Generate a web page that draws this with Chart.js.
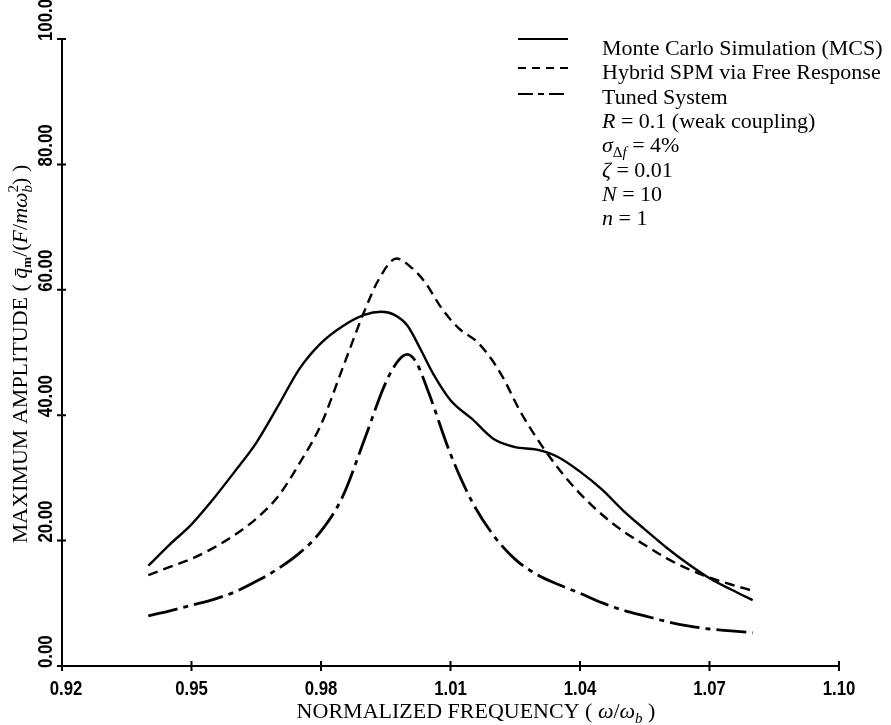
<!DOCTYPE html>
<html lang="en">
<head>
<meta charset="UTF-8">
<title>Maximum amplitude vs normalized frequency</title>
<script src="https://cdn.jsdelivr.net/npm/chart.js@4.4.1/dist/chart.umd.min.js"></script>
<style>
  body { margin: 0; background: #fff; }
  canvas { display: block; }
</style>
</head>
<body>
<canvas id="chart" width="891" height="725"></canvas>
<script>
// tick labels
const xTicks = [0.92, 0.95, 0.98, 1.01, 1.04, 1.07, 1.10];
const yTicks = [0, 20, 40, 60, 80, 100];

// Monte Carlo Simulation (solid)
const mcsX = [0.94, 0.945, 0.95, 0.955, 0.96, 0.965, 0.97, 0.975, 0.98, 0.985, 0.99, 0.994, 0.997, 1.0, 1.003, 1.006, 1.01, 1.015, 1.02, 1.025, 1.03, 1.035, 1.04, 1.045, 1.05, 1.055, 1.06, 1.065, 1.07, 1.075, 1.08];
const mcsY = [16.0, 19.4, 22.6, 26.6, 31.0, 35.6, 41.4, 47.4, 51.5, 54.2, 56.0, 56.5, 56.0, 54.3, 50.6, 46.6, 42.4, 39.4, 36.2, 34.9, 34.5, 33.3, 31.0, 28.2, 24.8, 21.8, 18.9, 16.3, 14.0, 12.2, 10.5];

// Hybrid SPM via Free Response (dashed)
const spmX = [0.94, 0.945, 0.95, 0.955, 0.96, 0.965, 0.97, 0.975, 0.98, 0.985, 0.99, 0.9935, 0.9975, 1.001, 1.004, 1.008, 1.012, 1.016, 1.019, 1.022, 1.026, 1.03, 1.035, 1.04, 1.045, 1.05, 1.055, 1.06, 1.065, 1.07, 1.075, 1.08];
const spmY = [14.5, 15.8, 17.1, 18.8, 20.9, 23.5, 27.0, 32.3, 38.5, 47.5, 56.5, 61.8, 65.0, 63.5, 61.3, 57.0, 53.8, 51.8, 49.4, 46.2, 40.8, 36.3, 31.5, 27.5, 24.2, 21.5, 19.3, 17.2, 15.5, 14.1, 13.0, 12.0];

// Tuned System (dash-dot)
const tunX = [0.94, 0.945, 0.95, 0.955, 0.96, 0.965, 0.97, 0.975, 0.98, 0.985, 0.99, 0.995, 0.998, 1.0, 1.002, 1.005, 1.01, 1.015, 1.02, 1.025, 1.03, 1.035, 1.04, 1.045, 1.05, 1.055, 1.06, 1.065, 1.07, 1.075, 1.08];
const tunY = [8.0, 8.8, 9.7, 10.6, 11.8, 13.5, 15.5, 18.0, 21.5, 27.0, 36.0, 45.2, 48.8, 49.7, 48.5, 43.5, 33.8, 26.2, 20.8, 17.0, 14.6, 13.0, 11.6, 10.1, 8.9, 8.0, 7.1, 6.4, 5.9, 5.6, 5.3];

const SERIF = "'Liberation Serif', 'Times New Roman', serif";
const R = "22px " + SERIF, I = "italic 22px " + SERIF;
const S = "15px " + SERIF, SI = "italic 15px " + SERIF;
const TICKFONT = "bold 21px 'Liberation Sans', Arial, sans-serif";
const SQUEEZE = 0.8; // tick labels are a condensed face

function pts(xs, ys) {
    return xs.map((x, i) => ({ x: x, y: ys[i] }));
}

// draws a list of text runs left to right; stack=true means the next run starts at the same x
function runsWidth(ctx, runs) {
    let w = 0;
    for (const r of runs) {
        ctx.font = r.f;
        if (!r.stack) w += ctx.measureText(r.t).width;
    }
    return w;
}
function drawRuns(ctx, runs, x, y) {
    for (const r of runs) {
        ctx.font = r.f;
        ctx.fillText(r.t, x, y + (r.dy || 0));
        if (!r.stack) x += ctx.measureText(r.t).width;
    }
}

const legendRows = [
    [{ t: "Monte Carlo Simulation (MCS)", f: R }],
    [{ t: "Hybrid SPM via Free Response", f: R }],
    [{ t: "Tuned System", f: R }],
    [{ t: "R", f: I }, { t: " = 0.1 (weak coupling)", f: R }],
    [{ t: "\u03c3", f: I }, { t: "\u0394", f: S, dy: 5 }, { t: "f", f: SI, dy: 5 }, { t: " = 4%", f: R }],
    [{ t: "\u03b6", f: I }, { t: " = 0.01", f: R }],
    [{ t: "N", f: I }, { t: " = 10", f: R }],
    [{ t: "n", f: I }, { t: " = 1", f: R }]
];
const legendDash = [[], [8, 6], [15, 5, 6, 5]];
const legendLineY = [39, 68, 94];

const decor = {
    id: "decor",
    afterDraw(chart) {
        const { ctx, chartArea: a, scales: { x, y } } = chart;
        ctx.save();
        ctx.strokeStyle = "#000";
        ctx.fillStyle = "#000";
        ctx.lineWidth = 2;
        ctx.setLineDash([]);

        // axes
        ctx.beginPath();
        ctx.moveTo(a.left, a.top);
        ctx.lineTo(a.left, a.bottom);
        ctx.lineTo(a.right, a.bottom);
        ctx.stroke();

        // ticks crossing the axes
        ctx.beginPath();
        for (const v of yTicks) {
            const py = y.getPixelForValue(v);
            ctx.moveTo(a.left - 5, py);
            ctx.lineTo(a.left + 4, py);
        }
        for (const v of xTicks) {
            const px = x.getPixelForValue(v);
            ctx.moveTo(px, a.bottom - 5);
            ctx.lineTo(px, a.bottom + 5);
        }
        ctx.stroke();

        // tick labels
        ctx.font = TICKFONT;
        ctx.textBaseline = "middle";
        ctx.textAlign = "center";
        xTicks.forEach((v, i) => {
            const px = x.getPixelForValue(v) + (i === 0 ? 4 : 0);
            ctx.save();
            ctx.translate(px, a.bottom + 23);
            ctx.scale(SQUEEZE, 1);
            ctx.fillText(v.toFixed(2), 0, 0);
            ctx.restore();
        });
        ctx.textAlign = "left";
        yTicks.forEach((v) => {
            const py = y.getPixelForValue(v);
            ctx.save();
            ctx.translate(a.left - 16, py + 2);
            ctx.rotate(-Math.PI / 2);
            ctx.scale(SQUEEZE, 1);
            ctx.fillText(v.toFixed(2), 0, 0);
            ctx.restore();
        });

        // axis titles
        ctx.textAlign = "left";
        ctx.textBaseline = "alphabetic";
        const xt = [
            { t: "NORMALIZED FREQUENCY ( ", f: R },
            { t: "\u03c9", f: I }, { t: "/", f: R }, { t: "\u03c9", f: I },
            { t: "b", f: SI, dy: 5 }, { t: " )", f: R }
        ];
        drawRuns(ctx, xt, 476 - runsWidth(ctx, xt) / 2, 718);

        const yt = [
            { t: "MAXIMUM AMPLITUDE ( ", f: R },
            { t: "q\u0304", f: I }, { t: "m", f: "bold 13px " + SERIF, dy: 4 },
            { t: "/(", f: R }, { t: "F", f: I }, { t: "/", f: R }, { t: "m\u03c9", f: I },
            { t: "2", f: S, dy: -9, stack: true }, { t: "b", f: SI, dy: 5 },
            { t: ") )", f: R }
        ];
        ctx.save();
        ctx.translate(20, 354);
        ctx.rotate(-Math.PI / 2);
        drawRuns(ctx, yt, -runsWidth(ctx, yt) / 2, 7);
        ctx.restore();

        // legend and parameters
        legendDash.forEach((d, i) => {
            ctx.setLineDash(d);
            ctx.beginPath();
            ctx.moveTo(518, legendLineY[i]);
            ctx.lineTo(568, legendLineY[i]);
            ctx.stroke();
        });
        ctx.setLineDash([]);
        legendRows.forEach((row, i) => {
            drawRuns(ctx, row, 602, 55 + i * 24.3);
        });
        ctx.restore();
    }
};

new Chart("chart", {
    type: "scatter",
    data: {
        datasets: [
            {
                label: "Monte Carlo Simulation (MCS)",
                data: pts(mcsX, mcsY),
                borderWidth: 2.4
            },
            {
                label: "Hybrid SPM via Free Response",
                data: pts(spmX, spmY),
                borderWidth: 2.4,
                borderDash: [10, 6]
            },
            {
                label: "Tuned System",
                data: pts(tunX, tunY),
                borderWidth: 2.8,
                borderDash: [30, 6, 5, 6]
            }
        ]
    },
    options: {
        responsive: false,
        animation: false,
        showLine: true,
        layout: { padding: { left: 62, right: 52, top: 39, bottom: 59 } },
        elements: {
            point: { radius: 0 },
            line: { borderColor: "#000", cubicInterpolationMode: "monotone", fill: false }
        },
        plugins: { legend: { display: false }, tooltip: { enabled: false } },
        scales: {
            x: { type: "linear", min: 0.92, max: 1.10, display: false },
            y: { type: "linear", min: 0, max: 100, display: false }
        }
    },
    plugins: [decor]
});
</script>
</body>
</html>
